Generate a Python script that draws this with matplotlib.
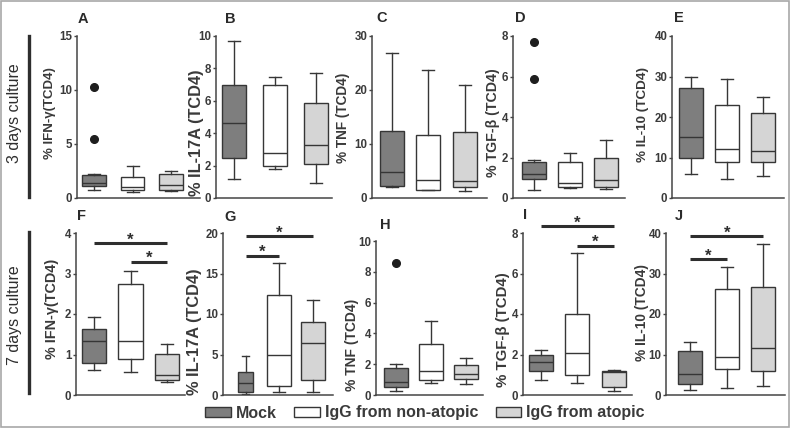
import matplotlib
matplotlib.use("Agg")
import matplotlib.pyplot as plt
from matplotlib.patches import Patch, Rectangle

W, H = 790, 433

groups = ["Mock", "IgG from non-atopic", "IgG from atopic"]
box_colors = ["#7e7e7e", "#ffffff", "#d5d5d5"]

# per group: (whisker low, Q1, median, Q3, whisker high)
# 3 days culture
ifn3 = [(0.7, 1.08, 1.42, 2.09, 2.25), (0.6, 0.71, 0.98, 1.97, 3.0), (0.65, 0.77, 1.17, 2.18, 2.46)]
ifn3_out = [[10.3, 5.5], [], []]
il17_3 = [(1.2, 2.5, 4.6, 6.95, 9.7), (1.8, 1.96, 2.8, 6.95, 7.5), (0.95, 2.1, 3.26, 5.84, 7.7)]
tnf3 = [(2.1, 2.3, 4.9, 12.4, 26.8), (1.5, 1.55, 3.4, 11.6, 23.7), (1.35, 2.1, 3.2, 12.2, 21.0)]
tgf3 = [(0.38, 0.92, 1.18, 1.78, 1.86), (0.48, 0.54, 0.72, 1.76, 2.24), (0.43, 0.53, 0.9, 1.96, 2.85)]
tgf3_out = [[7.7, 5.9], [], []]
il10_3 = [(6.0, 9.8, 15.1, 27.1, 29.9), (4.7, 8.9, 12.2, 22.9, 29.3), (5.5, 9.0, 11.5, 20.9, 25.0)]

# 7 days culture
ifn7 = [(0.62, 0.79, 1.33, 1.64, 1.93), (0.57, 0.88, 1.33, 2.74, 3.07), (0.32, 0.36, 0.5, 1.01, 1.27)]
il17_7 = [(0.17, 0.41, 1.45, 2.9, 4.76), (0.4, 1.08, 4.9, 12.3, 16.3), (0.4, 1.9, 6.4, 9.0, 11.7)]
tnf7 = [(0.26, 0.5, 0.86, 1.73, 2.0), (0.75, 0.95, 1.57, 3.3, 4.8), (0.71, 1.06, 1.36, 1.94, 2.38)]
tnf7_out = [[8.6], [], []]
tgf7 = [(0.76, 1.2, 1.64, 1.99, 2.22), (0.6, 1.01, 2.07, 3.98, 7.0), (0.2, 0.41, 1.12, 1.17, 1.23)]
il10_7 = [(1.16, 2.64, 5.3, 10.9, 13.1), (1.74, 6.3, 9.5, 26.2, 31.6), (2.3, 5.9, 11.6, 26.6, 37.3)]

# significance bars: (from group, to group, height)
ifn7_sig = [(1, 3, 3.75), (2, 3, 3.29)]
il17_7_sig = [(1, 3, 19.6), (1, 2, 17.2)]
tgf7_sig = [(1, 3, 8.33), (2, 3, 7.37)]
il10_7_sig = [(1, 3, 39.2), (1, 2, 33.5)]

no_out = [[], [], []]

DARK = "#363636"
TXT = "#3a3a3a"

# layout in pixels: axes (left, right, top, bottom), ylabel centre + size, letter centre
panels = [
    dict(letter="A", ylabel="% IFN-γ(TCD4)", stats=ifn3, out=ifn3_out, ymax=15, step=5,
         rect=(77, 200, 36, 198), xlim=(0.56, 3.75), w=0.62, lab=(50, 113, 9.5), let=(83, 19)),
    dict(letter="B", ylabel="% IL-17A (TCD4)", stats=il17_3, out=no_out, ymax=10, step=2,
         rect=(216, 332, 36, 198), xlim=(0.56, 3.39), w=0.6, lab=(196, 133, 11.8), let=(230, 19)),
    dict(letter="C", ylabel="% TNF (TCD4)", stats=tnf3, out=no_out, ymax=30, step=10,
         rect=(372, 487, 36, 198), xlim=(0.45, 3.61), w=0.66, lab=(343, 118, 9.8), let=(382, 18)),
    dict(letter="D", ylabel="% TGF-β (TCD4)", stats=tgf3, out=tgf3_out, ymax=8, step=2,
         rect=(513, 625, 36, 198), xlim=(0.43, 3.53), w=0.66, lab=(493, 123, 10.2), let=(520, 18)),
    dict(letter="E", ylabel="% IL-10 (TCD4)", stats=il10_3, out=no_out, ymax=40, step=10,
         rect=(672, 784, 36, 198), xlim=(0.48, 3.57), w=0.66, lab=(643, 115, 9.7), let=(679, 18)),
    dict(letter="F", ylabel="% IFN-γ(TCD4)", stats=ifn7, out=no_out, ymax=4, step=1, sig=ifn7_sig,
         rect=(76, 185, 233, 395), xlim=(0.51, 3.49), w=0.66, lab=(52, 309, 10.4), let=(81, 216)),
    dict(letter="G", ylabel="% IL-17A (TCD4)", stats=il17_7, out=no_out, ymax=20, step=5, sig=il17_7_sig,
         rect=(223, 333, 233, 395), xlim=(0.33, 3.6), w=[0.45, 0.72, 0.72], lab=(195, 332, 11.8), let=(230, 217)),
    dict(letter="H", ylabel="% TNF (TCD4)", stats=tnf7, out=tnf7_out, ymax=10, step=2,
         rect=(376, 483, 241, 395), xlim=(0.43, 3.49), w=0.68, lab=(352, 345, 10), let=(385, 225)),
    dict(letter="I", ylabel="% TGF-β (TCD4)", stats=tgf7, out=no_out, ymax=8, step=2, sig=tgf7_sig,
         rect=(523, 632, 233, 395), xlim=(0.52, 3.49), w=0.66, lab=(503, 330, 10.8), let=(525, 215)),
    dict(letter="J", ylabel="% IL-10 (TCD4)", stats=il10_7, out=no_out, ymax=40, step=10, sig=il10_7_sig,
         rect=(666, 785, 233, 395), xlim=(0.33, 3.6), w=0.66, lab=(642, 313, 9.9), let=(679, 216)),
]

plt.rcParams["font.family"] = ["Liberation Sans", "DejaVu Sans"]

fig = plt.figure(figsize=(W / 100, H / 100), dpi=100)

for p in panels:
    l, r, t, b = p["rect"]
    ax = fig.add_axes([l / W, 1 - b / H, (r - l) / W, (b - t) / H])
    bstats = []
    for (lo, q1, med, q3, hi), fl in zip(p["stats"], p["out"]):
        bstats.append(dict(whislo=lo, q1=q1, med=med, q3=q3, whishi=hi, fliers=fl))
    art = ax.bxp(bstats, positions=[1, 2, 3], widths=p["w"], patch_artist=True, showfliers=True,
                 boxprops=dict(edgecolor=DARK, linewidth=1.0),
                 medianprops=dict(color=DARK, linewidth=1.0),
                 whiskerprops=dict(color=DARK, linewidth=1.0),
                 capprops=dict(color=DARK, linewidth=1.0),
                 flierprops=dict(marker="o", markerfacecolor="#1e1e1e", markeredgecolor="#1e1e1e",
                                 markersize=5.5))
    for patch, c in zip(art["boxes"], box_colors):
        patch.set_facecolor(c)

    ax.set_xlim(*p["xlim"])
    ax.set_ylim(0, p["ymax"])
    ax.set_yticks(range(0, p["ymax"] + 1, p["step"]))
    ax.set_xticks([])
    for s in ["top", "right"]:
        ax.spines[s].set_visible(False)
    for s in ["left", "bottom"]:
        ax.spines[s].set_color("#454545")
        ax.spines[s].set_linewidth(1.1)
    ax.tick_params(axis="y", length=2.5, width=1.0, color="#454545", pad=0.8,
                   labelsize=8.3, labelcolor=TXT)
    for lbl in ax.get_yticklabels():
        lbl.set_fontweight("bold")

    lx, ly, lsize = p["lab"]
    ax.set_ylabel(p["ylabel"], fontsize=lsize, fontweight="bold", color=TXT, va="center")
    ax.yaxis.set_label_coords((lx - l) / (r - l), (b - ly) / (b - t))

    fig.text(p["let"][0] / W, 1 - p["let"][1] / H, p["letter"], fontsize=10.5, fontweight="bold",
             color="#2a2a2a", ha="center", va="center")

    for g1, g2, y in p.get("sig", []):
        ax.plot([g1, g2], [y, y], color="#2e2e2e", linewidth=2.2, clip_on=False, solid_capstyle="butt")
        ax.annotate("*", xy=((g1 + g2) / 2, y), xytext=(0, -1), textcoords="offset points",
                    ha="center", va="baseline", fontsize=12, fontweight="bold", color="#2e2e2e",
                    annotation_clip=False)

# row labels and side bars
for text, yc, y0, y1 in [("3 days culture", 113, 36, 197), ("7 days culture", 315, 232, 393)]:
    fig.text(15 / W, 1 - yc / H, text, rotation=90, fontsize=11.5, color="#2e2e2e",
             ha="center", va="center")
    fig.add_artist(plt.Line2D([29 / W, 29 / W], [1 - y0 / H, 1 - y1 / H], color="#2e2e2e",
                              linewidth=2.4, transform=fig.transFigure))

handles = [Patch(facecolor=c, edgecolor=DARK, linewidth=1.0) for c in box_colors]
fig.legend(handles, groups, loc="center", bbox_to_anchor=(425 / W, 1 - 413 / H), ncol=3,
           frameon=False, prop=dict(weight="bold", size=11.5), labelcolor=TXT,
           handlelength=1.6, handleheight=0.6, handletextpad=0.3, columnspacing=1.1)

fig.add_artist(Rectangle((0.75 / W, 1 - 427 / H), (W - 1.5) / W, 426.25 / H, transform=fig.transFigure,
                         fill=False, edgecolor="#a8a8a8", linewidth=1.2))

fig.savefig("out.png", dpi=100)
